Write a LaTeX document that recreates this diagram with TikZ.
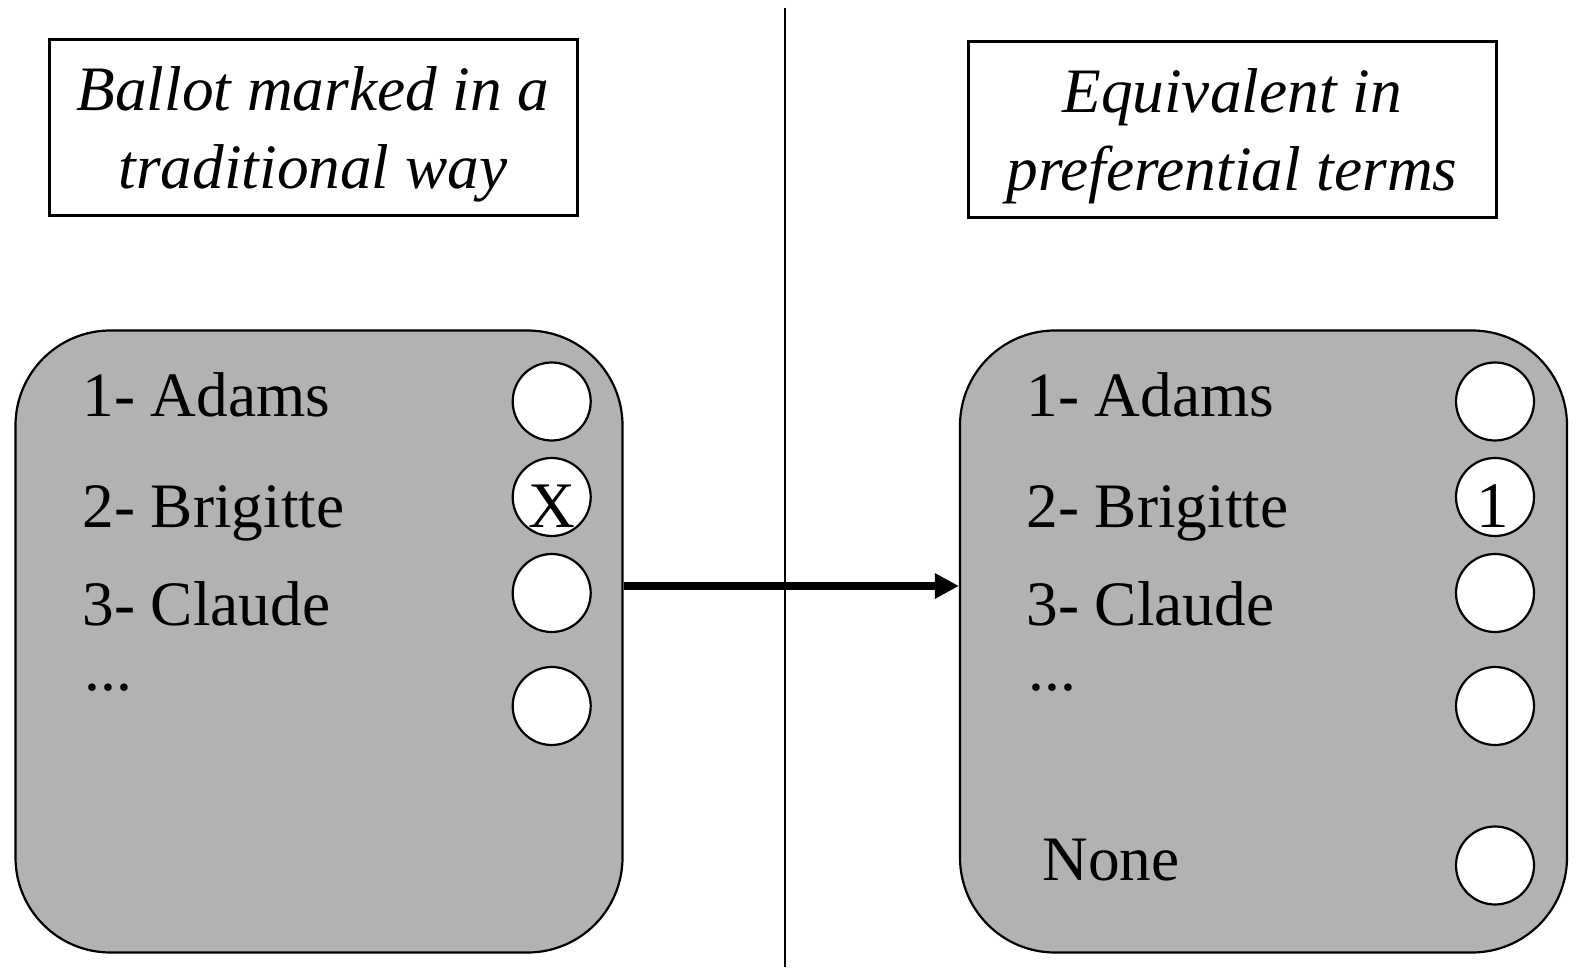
\documentclass[tikz,border=0pt]{standalone}
\usepackage{fontspec}
\setmainfont{Liberation Serif}
\usetikzlibrary{arrows.meta}
\definecolor{ballotfill}{RGB}{178,178,178}
\tikzset{
  hdrbox/.style={draw=black, line width=1.5pt, fill=white, minimum width=264pt, minimum height=88pt, inner sep=0pt},
  hdrtext/.style={anchor=base, inner sep=0pt, font=\fontsize{31.65pt}{38pt}\selectfont\itshape},
  ballot/.style={draw=black, line width=1.1pt, fill=ballotfill, rounded corners=47.5pt, minimum width=303.5pt, minimum height=311pt, inner sep=0pt},
  item/.style={anchor=base west, inner sep=0pt, font=\fontsize{31.65pt}{38pt}\selectfont},
  votemark/.style={anchor=base, inner sep=0pt, font=\fontsize{32.5pt}{38pt}\selectfont},
  bubble/.style={circle, draw=black, line width=1.1pt, fill=white, minimum size=39pt, inner sep=0pt},
  arr/.style={-{Triangle[length=12pt,width=12pt]}, line width=3.8pt},
  divider/.style={line width=1.4pt}
}
\begin{document}
\begin{tikzpicture}[x=0.5pt,y=-0.5pt]
\useasboundingbox (0,0) rectangle (1584,972);
% divider
\coordinate (vtop) at (785,8);
\coordinate (vbot) at (785,967);
\draw[divider] (vtop) -- (vbot);
% headers
\node[hdrbox] (hdrL) at (313,127.5) {};
\node[hdrtext] (hdrL1) at (313,111) {Ballot marked in a};
\node[hdrtext] (hdrL2) at (313,189) {traditional way};
\node[hdrbox] (hdrR) at (1232,130) {};
\node[hdrtext] (hdrR1) at (1232,113) {Equivalent in};
\node[hdrtext] (hdrR2) at (1232,190.5) {preferential terms};
% ballots
\node[ballot] (ballotL) at (319,641.5) {};
\node[ballot] (ballotR) at (1263.5,641.5) {};
% left items
\node[item] (la) at (82,417) {1- Adams};
\node[item] (lb) at (82,528) {2- Brigitte};
\node[item] (lc) at (82,625) {3- Claude};
\node[item] (ld) at (84,690) {...};
\node[bubble] (lc1) at (551.7,401.5) {};
\node[bubble] (lc2) at (551.7,497) {};
\node[bubble] (lc3) at (551.7,593) {};
\node[bubble] (lc4) at (551.7,706) {};
\node[votemark] (lx) at (551.7,528) {X};
% right items
\node[item] (ra) at (1026,417) {1- Adams};
\node[item] (rb) at (1026,528) {2- Brigitte};
\node[item] (rc) at (1026,625) {3- Claude};
\node[item] (rd) at (1028,690) {...};
\node[item] (rn) at (1042,880.5) {None};
\node[bubble] (rc1) at (1495,401.5) {};
\node[bubble] (rc2) at (1495,497) {};
\node[bubble] (rc3) at (1495,593) {};
\node[bubble] (rc4) at (1495,706) {};
\node[bubble] (rc5) at (1495,865.5) {};
\node[votemark] (r1) at (1493,528) {1};
% arrow
\draw[arr] (ballotL.east |- 0,586) -- (ballotR.west |- 0,586);
\end{tikzpicture}
\end{document}
